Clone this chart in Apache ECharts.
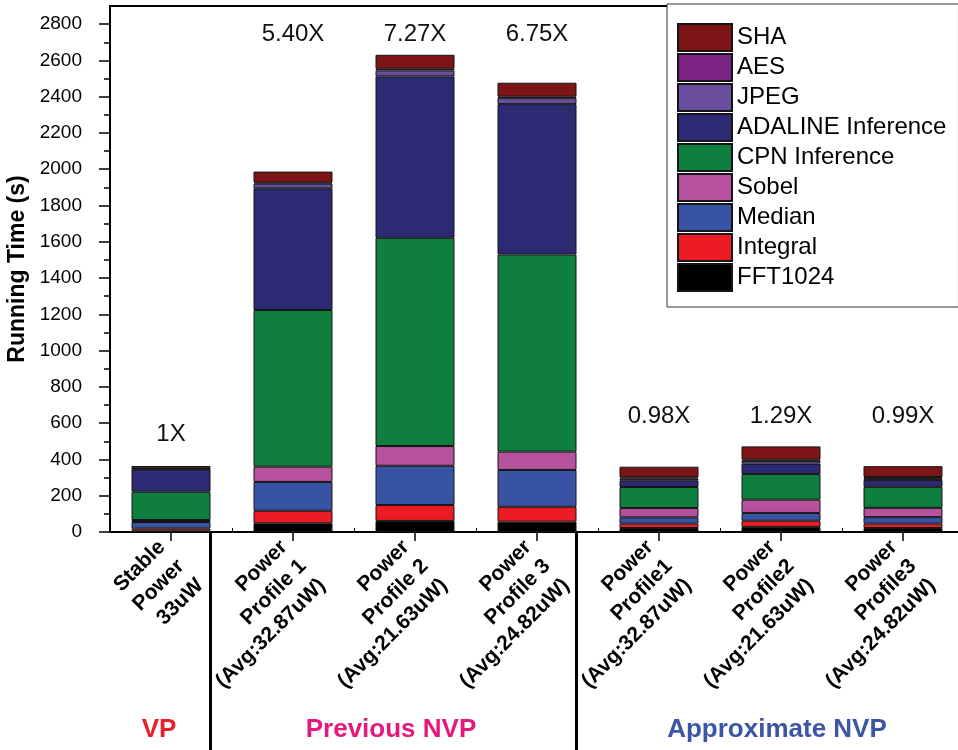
<!DOCTYPE html>
<html>
<head>
<meta charset="utf-8">
<script src="https://cdn.jsdelivr.net/npm/echarts@6/dist/echarts.min.js"></script>
<style>
html,body{margin:0;padding:0;background:#fff;}
#main{width:958px;height:750px;}
</style>
</head>
<body>
<div id="main"></div>
<script>
// ---- data ----
const categories = [
  'Stable\nPower\n33uW',
  'Power\nProfile 1\n(Avg:32.87uW)',
  'Power\nProfile 2\n(Avg:21.63uW)',
  'Power\nProfile 3\n(Avg:24.82uW)',
  'Power\nProfile1\n(Avg:32.87uW)',
  'Power\nProfile2\n(Avg:21.63uW)',
  'Power\nProfile3\n(Avg:24.82uW)'
];
const fft1024   = [7, 48, 61, 57, 22, 28, 22];
const integral  = [13, 69, 88, 82, 24, 34, 24];
const median    = [35, 159, 216, 203, 35, 43, 36];
const sobel     = [11, 84, 109, 101, 51, 73, 51];
const cpn       = [156, 864, 1148, 1087, 116, 142, 116];
const adaline   = [123, 671, 890, 829, 37, 57, 38];
const jpeg      = [3, 26, 33, 33, 10, 15, 10];
const aes       = [3, 6, 9, 8, 6, 7, 6];
const sha       = [13, 60, 77, 77, 59, 73, 60];
const speedupText   = ['1X', '5.40X', '7.27X', '6.75X', '0.98X', '1.29X', '0.99X'];
const speedupLevel  = [540, 2741, 2741, 2741, 636, 636, 636];
const yMajorTicks = [0, 200, 400, 600, 800, 1000, 1200, 1400, 1600, 1800, 2000, 2200, 2400, 2600, 2800];
const yMinorTicks = [100, 300, 500, 700, 900, 1100, 1300, 1500, 1700, 1900, 2100, 2300, 2500, 2700];
const groupNames = ['VP', 'Previous NVP', 'Approximate NVP'];

const seriesDefs = [
  {name: 'FFT1024', data: fft1024, color: '#000000'},
  {name: 'Integral', data: integral, color: '#ed1c24'},
  {name: 'Median', data: median, color: '#3953a4'},
  {name: 'Sobel', data: sobel, color: '#b5519d'},
  {name: 'CPN Inference', data: cpn, color: '#0e7f3e'},
  {name: 'ADALINE Inference', data: adaline, color: '#2b2a72'},
  {name: 'JPEG', data: jpeg, color: '#6a4e9e'},
  {name: 'AES', data: aes, color: '#7c2483'},
  {name: 'SHA', data: sha, color: '#7d1416'}
];

const FONT = '"Liberation Sans", Arial, sans-serif';
const chart = echarts.init(document.getElementById('main'), null, {renderer: 'canvas'});

const series = seriesDefs.map(s => ({
  name: s.name,
  type: 'bar',
  stack: 'total',
  barWidth: 79,
  data: s.data,
  itemStyle: {color: s.color, borderColor: '#151515', borderWidth: 1},
  emphasis: {disabled: true}
}));
series.push({
  name: 'speedup',
  type: 'scatter',
  symbolSize: 0,
  data: speedupLevel,
  silent: true,
  itemStyle: {opacity: 1},
  label: {
    show: true,
    position: 'inside',
    formatter: p => speedupText[p.dataIndex],
    fontFamily: FONT,
    fontSize: 24,
    color: '#111'
  },
  z: 5
});
// category labels, drawn as rotated text anchored at each category on the axis
series.push({
  name: 'catLabels',
  type: 'scatter',
  symbolSize: 0,
  data: categories.map(() => 0),
  silent: true,
  clip: false,
  itemStyle: {opacity: 1},
  label: {
    show: true,
    position: [10, 31],
    rotate: 45,
    align: 'right',
    verticalAlign: 'middle',
    formatter: p => categories[p.dataIndex],
    fontFamily: FONT,
    fontWeight: 'bold',
    fontSize: 21,
    lineHeight: 27,
    color: '#000'
  },
  z: 6
});

chart.setOption({
  animation: false,
  textStyle: {fontFamily: FONT},
  grid: {left: 110, top: 6, width: 854, height: 526, outerBoundsMode: 'none', containLabel: false},
  legend: {
    data: ['SHA', 'AES', 'JPEG', 'ADALINE Inference', 'CPN Inference', 'Sobel', 'Median', 'Integral', 'FFT1024'],
    orient: 'vertical',
    left: 667,
    top: 4,
    padding: [19, 12, 15, 10],
    itemWidth: 54,
    itemHeight: 27,
    itemGap: 1,
    icon: 'rect',
    backgroundColor: '#ffffff',
    borderColor: '#333',
    borderWidth: 1,
    borderRadius: 0,
    selectedMode: false,
    textStyle: {fontFamily: FONT, fontSize: 24, lineHeight: 27, color: '#000'}
  },
  xAxis: [
    {
      type: 'category',
      data: categories,
      gridIndex: 0,
      axisLine: {lineStyle: {color: '#000', width: 2}},
      axisTick: {show: true, alignWithLabel: true, inside: false, length: 9, lineStyle: {color: '#000', width: 1.5}},
      axisLabel: {show: false},
      splitLine: {show: false}
    },
    {
      type: 'category',
      data: categories,
      gridIndex: 0,
      position: 'bottom',
      axisLine: {show: false},
      axisTick: {show: true, inside: true, length: 4, lineStyle: {color: '#000', width: 1}},
      axisLabel: {show: false},
      splitLine: {show: false}
    },
    {
      type: 'category',
      data: categories,
      gridIndex: 0,
      position: 'top',
      axisLine: {show: true, lineStyle: {color: '#000', width: 2}},
      axisTick: {show: false},
      axisLabel: {show: false}
    }
  ],
  yAxis: [
    {
      type: 'value',
      min: 0,
      max: 2900,
      interval: 100,
      name: 'Running Time (s)',
      nameLocation: 'middle',
      nameGap: 73,
      nameTextStyle: {fontFamily: FONT, fontWeight: 'bold', fontSize: 23, color: '#000'},
      axisLine: {show: true, lineStyle: {color: '#000', width: 2}},
      axisTick: {show: true, inside: false, length: 11, customValues: yMajorTicks, lineStyle: {color: '#000', width: 1.5}},
      axisLabel: {customValues: yMajorTicks, formatter: v => String(v), margin: 28, fontFamily: FONT, fontSize: 19, color: '#000'},
      splitLine: {show: false}
    },
    {
      type: 'value',
      min: 0,
      max: 2900,
      interval: 100,
      position: 'left',
      axisLine: {show: false},
      axisTick: {show: true, inside: false, length: 6, customValues: yMinorTicks, lineStyle: {color: '#000', width: 1.5}},
      axisLabel: {show: false},
      splitLine: {show: false}
    }
  ],
  series: series
});

// separators and group labels (decoration)
const half = 79 / 2;
const sep1 = chart.convertToPixel({xAxisIndex: 0}, 0) + half;
const sep2 = chart.convertToPixel({xAxisIndex: 0}, 3) + half;
const axisY = chart.convertToPixel({yAxisIndex: 0}, 0);
chart.setOption({
  graphic: [
    {type: 'line', shape: {x1: sep1, y1: axisY, x2: sep1, y2: 750}, style: {stroke: '#000', lineWidth: 3}},
    {type: 'line', shape: {x1: sep2, y1: axisY, x2: sep2, y2: 750}, style: {stroke: '#000', lineWidth: 3}},
    {type: 'text', x: 159, y: 730, style: {text: groupNames[0], fontFamily: FONT, fontWeight: 'bold', fontSize: 26, fill: '#e8202a', align: 'center', verticalAlign: 'middle'}},
    {type: 'text', x: 391, y: 730, style: {text: groupNames[1], fontFamily: FONT, fontWeight: 'bold', fontSize: 26, fill: '#e4187d', align: 'center', verticalAlign: 'middle'}},
    {type: 'text', x: 777, y: 730, style: {text: groupNames[2], fontFamily: FONT, fontWeight: 'bold', fontSize: 26, fill: '#3c55a5', align: 'center', verticalAlign: 'middle'}}
  ]
});
</script>
</body>
</html>
